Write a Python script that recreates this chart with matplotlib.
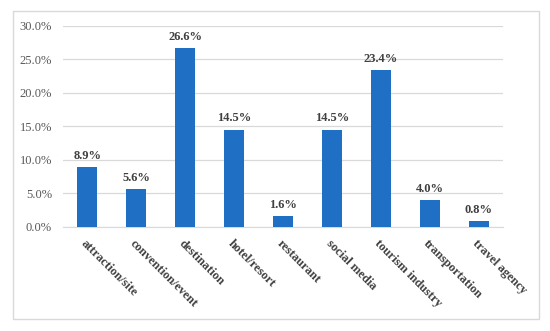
import matplotlib
matplotlib.use("Agg")
import matplotlib.pyplot as plt
from matplotlib.patches import Rectangle
from matplotlib.ticker import FuncFormatter

categories = ["attraction/site", "convention/event", "destination", "hotel/resort",
              "restaurant", "social media", "tourism industry", "transportation",
              "travel agency"]
values = [8.9, 5.6, 26.6, 14.5, 1.6, 14.5, 23.4, 4.0, 0.8]
yticks = [0, 5, 10, 15, 20, 25, 30]

plt.rcParams['font.family'] = ['Liberation Serif', 'DejaVu Serif']

fig = plt.figure(figsize=(5.5, 3.31), dpi=100)
fig.patches.append(Rectangle((13/550, 1-319/331), (539-13)/550, (319-11)/331,
                             transform=fig.transFigure, fill=False,
                             edgecolor='#d9d9d9', linewidth=1.0))
ax = fig.add_axes([63/550, 1-226.7/331, 440/550, (226.7-25.7)/331])

x = range(len(categories))
ax.bar(x, values, width=0.41, color='#1F6FC5', zorder=3)
for i, v in enumerate(values):
    ax.text(i, v + 0.8, f"{v:.1f}%", ha='center', va='bottom', fontsize=9,
            fontweight='bold', color='#404040')

ax.set_xlim(-0.5, len(categories) - 0.5)
ax.set_ylim(0, 30)
ax.set_yticks(yticks)
ax.yaxis.set_major_formatter(FuncFormatter(lambda v, p: f"{v:.1f}%"))
ax.grid(axis='y', color='#d9d9d9', linewidth=0.9, zorder=0)
for s in ['top', 'right', 'left']:
    ax.spines[s].set_visible(False)
ax.spines['bottom'].set_color('#d9d9d9')
ax.tick_params(axis='both', length=0, colors='#595959', labelsize=9)
ax.tick_params(axis='y', pad=8)
ax.set_xticks(list(x))
ax.set_xticklabels(categories, rotation=-45, ha='left', va='top',
                   rotation_mode='anchor', fontweight='bold', color='#404040')
ax.tick_params(axis='x', pad=8)

fig.savefig("out.png", dpi=100)
